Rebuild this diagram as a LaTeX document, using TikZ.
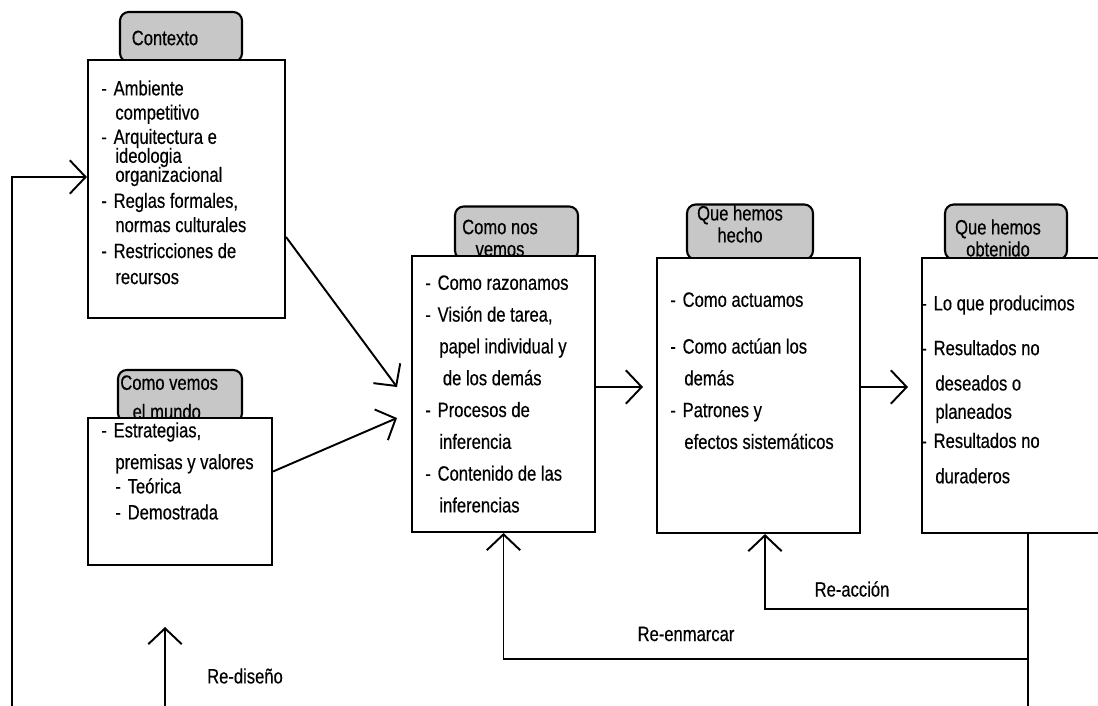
\documentclass[tikz,border=0pt]{standalone}
\usepackage{fontspec}
\setmainfont{Liberation Sans}[FakeStretch=0.8,FakeBold=0.4]
\usetikzlibrary{arrows.meta}

\tikzset{
  caja/.style={draw, line width=1.2pt, fill=white, inner sep=0pt},
  pestana/.style={draw, line width=1.2pt, rounded corners=5pt, fill=black!22, inner sep=0pt},
  texto/.style={anchor=north west, inner sep=0pt, align=left, font=\fontsize{11.8}{13.8}\selectfont},
  rotulo/.style={inner sep=0pt, align=center, font=\fontsize{11.8}{12.5}\selectfont},
  flecha/.style={line width=1.1pt, -{Straight Barb[length=9pt,width=19pt]}},
  linea/.style={line width=1.1pt},
}
\newcommand{\itm}{\makebox[7pt][l]{-}}
\newcommand{\sigue}{\hspace*{8pt}}

\begin{document}
\begin{tikzpicture}[x=0.02cm, y=-0.02cm]
\useasboundingbox (0,0) rectangle (1098,706);
% pestanas
\node[pestana, minimum width=2.44cm, minimum height=1.0cm] (tctx) at (181,37) {};
\node[pestana, minimum width=2.48cm, minimum height=1.04cm] (tmundo) at (180,396) {};
\node[pestana, minimum width=2.46cm, minimum height=1.06cm] (tnos) at (516.5,233) {};
\node[pestana, minimum width=2.52cm, minimum height=1.1cm] (thecho) at (750,232) {};
\node[pestana, minimum width=2.44cm, minimum height=1.1cm] (tobt) at (1006,232) {};
\node[rotulo] (lctx) at (165,38) {Contexto};
\node[rotulo, anchor=north west, align=left] (lmundo) at (120,375) {Como vemos\\[4pt]\hspace*{7pt}el mundo};
\node[rotulo] (lnos) at (500,238) {Como nos\\vemos};
\node[rotulo] (lhecho) at (740,224) {Que hemos\\hecho};
\node[rotulo] (lobt) at (998,238) {Que hemos\\obtenido};
% cajas
\node[caja, minimum width=3.94cm, minimum height=5.16cm] (ctx) at (186.5,189) {};
\node[caja, minimum width=3.68cm, minimum height=2.94cm] (mundo) at (180,491.5) {};
\node[caja, minimum width=3.66cm, minimum height=5.52cm] (nos) at (503.5,394) {};
\node[caja, minimum width=4.06cm, minimum height=5.5cm] (hecho) at (758.5,395.5) {};
\node[caja, minimum width=3.58cm, minimum height=5.5cm] (obt) at (1011.5,395.5) {};
% textos
\node[texto] (tx1) at (101,80) {\itm Ambiente\\
  \sigue competitivo\\
  \itm Arquitectura e\\[-3pt]
  \sigue ideologia\\[-3pt]
  \sigue organizacional\\[1pt]
  \itm Reglas formales,\\
  \sigue normas culturales\\[1pt]
  \itm Restricciones de\\[1pt]
  \sigue recursos};
\node[texto] (tx2) at (101,422) {\itm Estrategias,\\[4.3pt]
  \sigue premisas y valores\\
  \sigue\itm Teórica\\[1pt]
  \sigue\itm Demostrada};
\node[texto, font=\fontsize{11.8}{18.1}\selectfont] (tx3) at (425,275) {\itm Como razonamos\\
  \itm Visión de tarea,\\
  \sigue papel individual y\\
  \sigue\hspace*{2pt}de los demás\\
  \itm Procesos de\\
  \sigue inferencia\\
  \itm Contenido de las\\
  \sigue inferencias};
\node[texto, font=\fontsize{11.8}{18.1}\selectfont] (tx4) at (670,292) {\itm Como actuamos\\[8.5pt]
  \itm Como actúan los\\
  \sigue demás\\
  \itm Patrones y\\
  \sigue efectos sistemáticos};
\node[texto, font=\fontsize{11.8}{18.1}\selectfont] (tx5) at (921,295) {\itm Lo que producimos\\[7.4pt]
  \itm Resultados no\\[2pt]
  \sigue deseados o\\[-2pt]
  \sigue planeados\\[-1.5pt]
  \itm Resultados no\\[2pt]
  \sigue duraderos};
% conexiones
\coordinate (p1) at (397,387);
\coordinate (p2) at (397,418);
\draw[flecha] ([yshift=-0.96cm]ctx.east) -- (p1);
\draw[flecha] ([yshift=0.4cm]mundo.east) -- (p2);
\draw[flecha] ([yshift=0.14cm]nos.east) -- ++(47,0);
\draw[flecha] ([yshift=0.17cm]hecho.east) -- ++(47,0);
% retroalimentacion
\coordinate (izq) at (12,706);
\coordinate (entrada) at (12,177);
\draw[flecha] (izq) -- (entrada) -- (ctx.west |- entrada);
\coordinate (rd) at (165,706);
\coordinate (rdtip) at (165,627);
\draw[flecha] (rd) -- (rdtip);
\node[rotulo] (lrd) at (245,676) {Re-diseño};
\coordinate (bajo) at (1028,706);
\coordinate (ra) at (1028,609);
\coordinate (ra1) at (765,609);
\coordinate (re) at (1028,659);
\draw[linea] (obt.south -| bajo) -- (bajo);
\draw[flecha] (ra) -- (ra1) -- (hecho.south -| ra1);
\draw[flecha] (re) -| (nos.south);
\node[rotulo] (lra) at (852,589) {Re-acción};
\node[rotulo] (lre) at (686,634) {Re-enmarcar};
\end{tikzpicture}
\end{document}
